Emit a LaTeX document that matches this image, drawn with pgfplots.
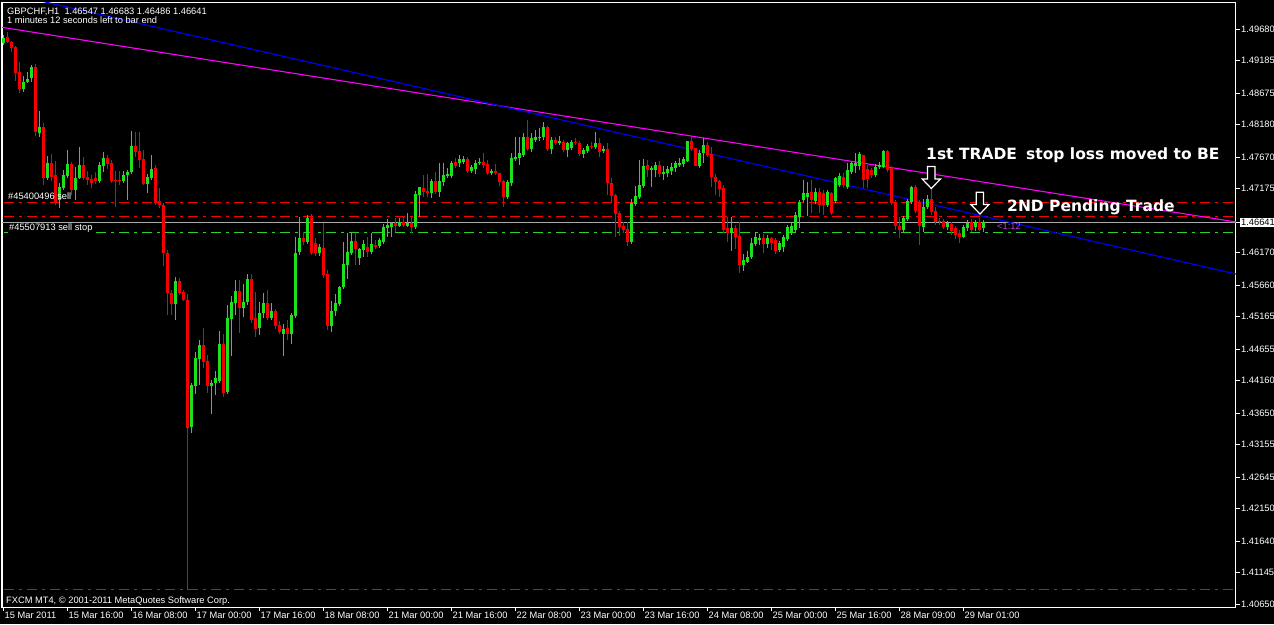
\documentclass[border=0pt]{standalone}
\usepackage{fontspec}
\setmainfont{Liberation Sans}
\newfontfamily\annot{DejaVu Sans}
\usepackage{pgfplots}
\usepackage{pgfplotstable}
\pgfplotsset{compat=1.18}
\definecolor{bull}{RGB}{30,225,30}
\definecolor{bear}{RGB}{245,0,0}
\definecolor{tlmag}{RGB}{255,0,255}
\definecolor{tlblue}{RGB}{0,0,255}
\definecolor{bidgray}{RGB}{170,170,170}
\definecolor{lvlred}{RGB}{255,0,0}
\definecolor{lvlgreen}{RGB}{40,210,40}
\definecolor{ratio}{RGB}{190,60,220}

\pgfplotstableread{
i o h l c
0 1.49460 1.49585 1.49428 1.49538
1 1.49554 1.49633 1.49460 1.49476
2 1.49476 1.49491 1.49319 1.49381
3 1.49397 1.49413 1.48863 1.48989
4 1.49005 1.49162 1.48675 1.48738
5 1.48738 1.48942 1.48691 1.48848
6 1.48848 1.49005 1.48832 1.48895
7 1.48911 1.49114 1.48848 1.49083
8 1.49083 1.49130 1.48000 1.48063
9 1.48047 1.48392 1.47984 1.48141
10 1.48141 1.48204 1.47229 1.47339
11 1.47339 1.47685 1.47308 1.47575
12 1.47575 1.47716 1.47292 1.47355
13 1.47386 1.47606 1.46915 1.46963
14 1.46994 1.47261 1.46868 1.47198
15 1.47182 1.47465 1.47151 1.47386
16 1.47371 1.47779 1.47339 1.47559
17 1.47559 1.47591 1.47072 1.47151
18 1.47151 1.47512 1.46994 1.47339
19 1.47339 1.47826 1.47324 1.47543
20 1.47543 1.47669 1.47308 1.47339
21 1.47355 1.47449 1.47229 1.47308
22 1.47324 1.47386 1.47182 1.47261
23 1.47339 1.47434 1.47245 1.47292
24 1.47292 1.47591 1.47261 1.47543
25 1.47528 1.47748 1.47434 1.47654
26 1.47654 1.47701 1.47481 1.47559
27 1.47575 1.47622 1.47261 1.47292
28 1.47308 1.47449 1.46884 1.47292
29 1.47308 1.47449 1.47229 1.47292
30 1.47292 1.47449 1.47261 1.47386
31 1.47386 1.47465 1.46994 1.47434
32 1.47434 1.48078 1.47402 1.47842
33 1.47842 1.48063 1.47669 1.47748
34 1.47763 1.48063 1.47496 1.47622
35 1.47638 1.47779 1.47229 1.47245
36 1.47245 1.47402 1.47104 1.47355
37 1.47339 1.47701 1.47308 1.47481
38 1.47496 1.47543 1.46915 1.46947
39 1.46978 1.47182 1.46868 1.46915
40 1.46915 1.46947 1.45958 1.46162
41 1.46162 1.46209 1.45188 1.45534
42 1.45534 1.45581 1.45188 1.45361
43 1.45361 1.45785 1.45109 1.45722
44 1.45722 1.45769 1.45503 1.45534
45 1.45550 1.45581 1.45408 1.45424
46 1.45424 1.45518 1.40869 1.43413
47 1.43429 1.44120 1.43335 1.44088
48 1.44073 1.44607 1.43947 1.44512
49 1.44497 1.44795 1.44088 1.44716
50 1.44716 1.44983 1.44355 1.44450
51 1.44465 1.44559 1.43963 1.44073
52 1.44073 1.44167 1.43633 1.44120
53 1.44120 1.44308 1.43932 1.44198
54 1.44151 1.44936 1.44120 1.44732
55 1.44732 1.44889 1.43900 1.43963
56 1.43979 1.45345 1.43947 1.45141
57 1.45125 1.45487 1.44543 1.45392
58 1.45377 1.45738 1.45188 1.45565
59 1.45565 1.45738 1.44905 1.45298
60 1.45298 1.45675 1.45157 1.45392
61 1.45392 1.45832 1.45345 1.45753
62 1.45753 1.45832 1.45062 1.45109
63 1.45141 1.45550 1.44842 1.44967
64 1.44983 1.45392 1.44873 1.45220
65 1.45220 1.45534 1.45141 1.45377
66 1.45377 1.45581 1.45109 1.45141
67 1.45141 1.45377 1.45109 1.45251
68 1.45251 1.45282 1.44967 1.45015
69 1.45030 1.45093 1.44889 1.44920
70 1.44889 1.45046 1.44543 1.44967
71 1.44983 1.45109 1.44795 1.44889
72 1.44889 1.45220 1.44732 1.45188
73 1.45172 1.46413 1.45141 1.46162
74 1.46177 1.46727 1.46130 1.46397
75 1.46397 1.46491 1.46288 1.46335
76 1.46335 1.46759 1.46303 1.46712
77 1.46712 1.46774 1.46130 1.46162
78 1.46319 1.46397 1.46115 1.46162
79 1.46162 1.46303 1.46115 1.46256
80 1.46240 1.46633 1.45769 1.45817
81 1.45832 1.45895 1.44952 1.45015
82 1.45015 1.45408 1.44920 1.45251
83 1.45251 1.45518 1.45172 1.45377
84 1.45361 1.45644 1.45330 1.45628
85 1.45628 1.46335 1.45597 1.45989
86 1.45974 1.46476 1.45753 1.46177
87 1.46162 1.46476 1.46130 1.46350
88 1.46350 1.46476 1.45974 1.46225
89 1.46083 1.46240 1.45974 1.46225
90 1.46209 1.46366 1.46099 1.46303
91 1.46256 1.46413 1.46099 1.46177
92 1.46177 1.46476 1.46146 1.46303
93 1.46288 1.46366 1.46225 1.46256
94 1.46272 1.46397 1.46240 1.46366
95 1.46335 1.46617 1.46303 1.46570
96 1.46554 1.46696 1.46413 1.46601
97 1.46570 1.46649 1.46413 1.46633
98 1.46633 1.46712 1.46491 1.46586
99 1.46586 1.46712 1.46570 1.46649
100 1.46649 1.46743 1.46570 1.46601
101 1.46586 1.46790 1.46570 1.46633
102 1.46633 1.46743 1.46476 1.46570
103 1.46570 1.47135 1.46539 1.47088
104 1.47072 1.47198 1.46727 1.47198
105 1.47182 1.47386 1.47041 1.47120
106 1.47135 1.47402 1.47041 1.47104
107 1.47104 1.47324 1.47025 1.47292
108 1.47292 1.47434 1.47088 1.47120
109 1.47120 1.47575 1.47041 1.47292
110 1.47276 1.47575 1.47214 1.47386
111 1.47371 1.47496 1.47339 1.47402
112 1.47371 1.47606 1.47339 1.47575
113 1.47591 1.47654 1.47496 1.47528
114 1.47575 1.47701 1.47512 1.47638
115 1.47591 1.47685 1.47559 1.47638
116 1.47638 1.47669 1.47418 1.47449
117 1.47449 1.47543 1.47418 1.47512
118 1.47481 1.47622 1.47402 1.47575
119 1.47575 1.47654 1.47543 1.47591
120 1.47591 1.47732 1.47496 1.47543
121 1.47559 1.47622 1.47386 1.47418
122 1.47418 1.47481 1.47386 1.47449
123 1.47449 1.47559 1.47386 1.47418
124 1.47418 1.47418 1.47214 1.47276
125 1.47292 1.47308 1.46884 1.47041
126 1.47041 1.47308 1.47010 1.47276
127 1.47261 1.47732 1.47214 1.47654
128 1.47638 1.47984 1.47606 1.47669
129 1.47654 1.47984 1.47543 1.47732
130 1.47701 1.48047 1.47669 1.47984
131 1.47984 1.48251 1.47763 1.47795
132 1.47795 1.48047 1.47748 1.47968
133 1.47936 1.48094 1.47905 1.47984
134 1.47968 1.48126 1.47921 1.47984
135 1.47984 1.48220 1.47936 1.48141
136 1.48141 1.48157 1.47763 1.47795
137 1.47795 1.47984 1.47716 1.47936
138 1.47936 1.47984 1.47858 1.47889
139 1.47889 1.48000 1.47858 1.47921
140 1.47905 1.47936 1.47748 1.47779
141 1.47779 1.47905 1.47669 1.47889
142 1.47811 1.47936 1.47779 1.47905
143 1.47905 1.47968 1.47858 1.47889
144 1.47889 1.47921 1.47685 1.47716
145 1.47716 1.47811 1.47654 1.47779
146 1.47763 1.47873 1.47732 1.47842
147 1.47842 1.47905 1.47795 1.47826
148 1.47826 1.48063 1.47795 1.47889
149 1.47889 1.47968 1.47669 1.47748
150 1.47763 1.47842 1.47732 1.47795
151 1.47795 1.47889 1.47072 1.47261
152 1.47261 1.47339 1.46963 1.47057
153 1.47072 1.47088 1.46413 1.46774
154 1.46790 1.46821 1.46429 1.46570
155 1.46586 1.46649 1.46476 1.46523
156 1.46539 1.46649 1.46272 1.46335
157 1.46335 1.47010 1.46303 1.46947
158 1.46931 1.47214 1.46899 1.47057
159 1.47041 1.47622 1.47010 1.47229
160 1.47214 1.47638 1.47182 1.47528
161 1.47543 1.47622 1.47355 1.47465
162 1.47465 1.47528 1.47198 1.47496
163 1.47465 1.47591 1.47355 1.47543
164 1.47543 1.47606 1.47355 1.47402
165 1.47402 1.47528 1.47308 1.47434
166 1.47418 1.47528 1.47355 1.47481
167 1.47449 1.47575 1.47386 1.47512
168 1.47496 1.47606 1.47434 1.47575
169 1.47543 1.47654 1.47512 1.47575
170 1.47559 1.47669 1.47512 1.47638
171 1.47606 1.47921 1.47591 1.47921
172 1.47921 1.47984 1.47763 1.47795
173 1.47811 1.47811 1.47528 1.47528
174 1.47528 1.47779 1.47496 1.47732
175 1.47732 1.47968 1.47575 1.47858
176 1.47858 1.47905 1.47669 1.47701
177 1.47716 1.47826 1.47198 1.47355
178 1.47355 1.47402 1.47072 1.47276
179 1.47292 1.47308 1.47041 1.47167
180 1.47182 1.47229 1.46476 1.46523
181 1.46554 1.46727 1.46335 1.46476
182 1.46476 1.46727 1.46193 1.46554
183 1.46554 1.46601 1.46225 1.46413
184 1.46429 1.46649 1.45848 1.45974
185 1.45974 1.46146 1.45879 1.46052
186 1.46020 1.46193 1.46005 1.46099
187 1.46099 1.46397 1.46068 1.46319
188 1.46303 1.46476 1.46272 1.46413
189 1.46366 1.46460 1.46288 1.46397
190 1.46397 1.46460 1.46162 1.46303
191 1.46303 1.46444 1.46240 1.46397
192 1.46397 1.46413 1.46209 1.46319
193 1.46366 1.46397 1.46146 1.46193
194 1.46209 1.46350 1.46177 1.46319
195 1.46256 1.46444 1.46177 1.46413
196 1.46381 1.46601 1.46350 1.46570
197 1.46476 1.46649 1.46444 1.46586
198 1.46523 1.46806 1.46491 1.46759
199 1.46727 1.46994 1.46554 1.46963
200 1.46994 1.47308 1.46963 1.47104
201 1.47041 1.47276 1.46743 1.47104
202 1.47120 1.47308 1.46790 1.46994
203 1.46978 1.47182 1.46931 1.47120
204 1.47120 1.47182 1.46790 1.46915
205 1.47104 1.47151 1.46759 1.46915
206 1.46915 1.47151 1.46884 1.47120
207 1.47104 1.47120 1.46759 1.46790
208 1.46978 1.47355 1.46947 1.47339
209 1.47229 1.47418 1.47198 1.47371
210 1.47355 1.47418 1.47182 1.47229
211 1.47198 1.47575 1.47167 1.47465
212 1.47434 1.47591 1.47402 1.47575
213 1.47528 1.47732 1.47418 1.47575
214 1.47528 1.47748 1.47465 1.47716
215 1.47701 1.47701 1.47182 1.47308
216 1.47481 1.47543 1.47182 1.47324
217 1.47465 1.47496 1.47339 1.47386
218 1.47386 1.47559 1.47355 1.47512
219 1.47512 1.47591 1.47481 1.47543
220 1.47512 1.47779 1.47496 1.47763
221 1.47763 1.47779 1.47434 1.47465
222 1.47496 1.47528 1.46915 1.46947
223 1.46963 1.46994 1.46523 1.46586
224 1.46586 1.46727 1.46397 1.46523
225 1.46523 1.46743 1.46491 1.46712
226 1.46696 1.47010 1.46664 1.46978
227 1.46963 1.47214 1.46931 1.47198
228 1.47198 1.47229 1.46790 1.46821
229 1.46963 1.46994 1.46288 1.46586
230 1.46570 1.47010 1.46491 1.46884
231 1.46884 1.47072 1.46853 1.47010
232 1.47010 1.47261 1.46759 1.46806
233 1.46821 1.46884 1.46601 1.46649
234 1.46664 1.46712 1.46601 1.46649
235 1.46664 1.46696 1.46539 1.46570
236 1.46570 1.46664 1.46523 1.46633
237 1.46617 1.46649 1.46444 1.46507
238 1.46554 1.46586 1.46381 1.46444
239 1.46476 1.46523 1.46319 1.46413
240 1.46413 1.46601 1.46397 1.46570
241 1.46554 1.46680 1.46507 1.46633
242 1.46649 1.46696 1.46491 1.46523
243 1.46570 1.46680 1.46507 1.46649
244 1.46649 1.46712 1.46507 1.46523
245 1.46547 1.46683 1.46486 1.46641
}\candles

\begin{document}
\begin{tikzpicture}
\fill[black] (0,0) rectangle (1274pt,624pt);
\begin{axis}[
  at={(2pt,17pt)}, anchor=south west, scale only axis,
  width=1234pt, height=604pt,
  xmin=-0.375, xmax=308.125, ymin=1.40602, ymax=1.50088,
  axis line style={white, line width=1pt},
  axis background/.style={fill=black},
  xtick={0,16,...,240},
  xticklabels={15 Mar 2011,15 Mar 16:00,16 Mar 08:00,17 Mar 00:00,17 Mar 16:00,18 Mar 08:00,21 Mar 00:00,21 Mar 16:00,22 Mar 08:00,23 Mar 00:00,23 Mar 16:00,24 Mar 08:00,25 Mar 00:00,25 Mar 16:00,28 Mar 09:00,29 Mar 01:00},
  ytick={1.40650,1.41145,1.41640,1.42150,1.42645,1.43155,1.43650,1.44160,1.44655,1.45165,1.45660,1.46170,1.46641,1.47175,1.47670,1.48180,1.48675,1.49185,1.49680},
  yticklabels={1.40650,1.41145,1.41640,1.42150,1.42645,1.43155,1.43650,1.44160,1.44655,1.45165,1.45660,1.46170,{},1.47175,1.47670,1.48180,1.48675,1.49185,1.49680},
  xtick pos=left, ytick pos=right, yticklabel pos=right,
  tick align=outside, major tick length=4pt,
  tick style={white, line width=0.8pt},
  tick label style={font=\fontsize{9.3}{10}\selectfont, text=white, inner sep=0pt},
  xticklabel style={anchor=north west, xshift=1pt, yshift=-1pt},
  yticklabel style={anchor=west, xshift=1pt},
  /pgf/number format/assume math mode=true,
]
% horizontal levels
\addplot[lvlred, line width=1.2pt, dash pattern=on 10pt off 5pt on 3pt off 5pt, forget plot] coordinates {(0.125,1.46955) (307.6,1.46955)};
\addplot[lvlred, line width=1.2pt, dash pattern=on 10pt off 5pt on 3pt off 5pt, forget plot] coordinates {(0.125,1.46735) (307.6,1.46735)};
\addplot[lvlred, line width=1.2pt, dash pattern=on 10pt off 5pt on 3pt off 5pt, forget plot] coordinates {(0.125,1.40877) (307.6,1.40877)};
\addplot[lvlgreen, line width=1.2pt, dash pattern=on 10pt off 5pt on 3pt off 5pt, forget plot] coordinates {(0.125,1.46483) (307.6,1.46483)};
\addplot[bidgray, line width=1.2pt, forget plot] coordinates {(-0.375,1.46641) (308.125,1.46641)};
% trend lines
\addplot[tlmag, line width=1.1pt, forget plot] coordinates {(-0.875,1.49711) (308.125,1.46649)};
\addplot[tlblue, line width=1.1pt, forget plot] coordinates {(0,1.50254) (308.125,1.45832)};
% wicks (low to high)
\addplot[bull, line width=1pt, forget plot, -, quiver={u=0, v={\thisrow{c}<\thisrow{o} ? 0 : \thisrow{h}-\thisrow{l}}}]
  table[x=i, y=l] {\candles};
\addplot[bear, line width=1pt, forget plot, -, quiver={u=0, v={\thisrow{c}<\thisrow{o} ? \thisrow{h}-\thisrow{l} : 0}}]
  table[x=i, y=l] {\candles};
% bodies (open to close)
\addplot[bull, line width=3pt, forget plot, -, quiver={u=0, v={max(\thisrow{c}-\thisrow{o},0)}}]
  table[x=i, y=o] {\candles};
\addplot[bear, line width=3pt, forget plot, -, quiver={u=0, v={max(\thisrow{o}-\thisrow{c},0)}}]
  table[x=i, y=c] {\candles};
\end{axis}
\begin{scope}[shift={(0pt,624pt)}, x=1pt, y=-1pt]
  \fontsize{9.3}{10}\selectfont
  \node[anchor=base west, text=white, inner sep=0pt] at (7,15) {GBPCHF,H1\ \ 1.46547 1.46683 1.46486 1.46641};
  \node[anchor=base west, text=white, inner sep=0pt] at (7,24) {1 minutes 12 seconds left to bar end};
  \node[anchor=base west, text=white, inner sep=0pt] at (8,200) {\#45400496 sell};
  \node[anchor=base west, text=white, fill=black, inner sep=1pt] at (8,230.5) {\#45507913 sell stop};
  \node[anchor=base west, text=white, inner sep=0pt] at (6,603) {FXCM MT4, © 2001-2011 MetaQuotes Software Corp.};
  \node[anchor=base west, text=ratio, inner sep=0pt] at (997,230) {<1:12};
  \node[anchor=west, fill=white, text=black, inner sep=1pt] at (1240,222.5) {1.46641};
  \node[anchor=base west, text=white, inner sep=0pt, font=\annot\bfseries\fontsize{15.5}{18}\selectfont] at (926,160) {1st TRADE};
  \node[anchor=base west, text=white, inner sep=0pt, font=\annot\bfseries\fontsize{15.5}{18}\selectfont] at (1026,160) {stop loss moved to BE};
  \node[anchor=base west, text=white, inner sep=0pt, font=\annot\bfseries\fontsize{15.5}{18}\selectfont] at (1007,211.7) {2ND Pending Trade};
  \draw[white, fill=black, line width=1.2pt, line join=miter] (927.5,166.5) -- (935,166.5) -- (935,179) -- (940.5,179) -- (931.3,188.5) -- (922.2,179) -- (927.5,179) -- cycle;
  \draw[white, fill=black, line width=1.2pt, line join=miter] (976.2,192.3) -- (983.5,192.3) -- (983.5,204.5) -- (989,204.5) -- (980,214) -- (970.8,204.5) -- (976.2,204.5) -- cycle;
\end{scope}
\pgfresetboundingbox
\useasboundingbox (0,0) rectangle (1274pt,624pt);
\end{tikzpicture}
\end{document}
